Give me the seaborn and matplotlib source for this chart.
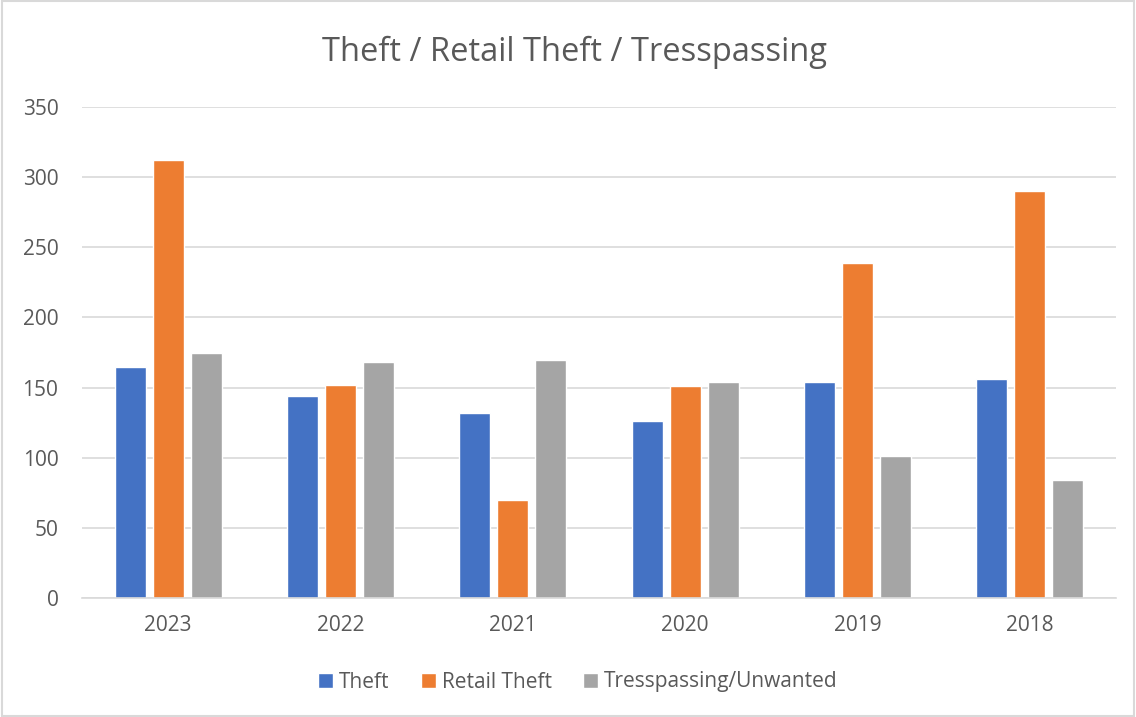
import matplotlib
matplotlib.use("Agg")
import matplotlib.pyplot as plt
import seaborn as sns
import pandas as pd
from matplotlib.patches import Rectangle

years = ["2023", "2022", "2021", "2020", "2019", "2018"]
theft = [165, 144, 132, 126, 154, 156]
retail_theft = [312, 152, 70, 151, 239, 290]
trespassing = [175, 168, 170, 154, 101, 84]
series_names = ["Theft", "Retail Theft", "Tresspassing/Unwanted"]
colors = ["#4472C4", "#ED7D31", "#A5A5A5"]

df = pd.DataFrame({
    "Year": years * 3,
    "Value": theft + retail_theft + trespassing,
    "Series": [series_names[0]] * 6 + [series_names[1]] * 6 + [series_names[2]] * 6,
})

sns.set_theme(style="white")
plt.rcParams["font.family"] = ["Open Sans", "DejaVu Sans"]
text_color = "#595959"

fig = plt.figure(figsize=(11.36, 7.17), dpi=100)
ax = fig.add_axes([82 / 1136, 1 - 598 / 717, (1116 - 82) / 1136, (598 - 107) / 717])

sns.barplot(data=df, x="Year", y="Value", hue="Series", order=years,
            hue_order=series_names, palette=colors, width=0.66, gap=0.18,
            saturation=1, ax=ax, legend=True)

ax.set_ylim(0, 350)
ax.set_xlim(-0.5, 5.5)
ax.set_yticks(range(0, 351, 50))
ax.yaxis.grid(True, color="#D9D9D9", linewidth=1.2)
ax.set_axisbelow(True)
for s in ["top", "right", "left"]:
    ax.spines[s].set_visible(False)
ax.spines["bottom"].set_color("#D9D9D9")
ax.spines["bottom"].set_linewidth(1.2)
ax.tick_params(axis="both", length=0, labelsize=15, colors=text_color)
ax.tick_params(axis="x", pad=12)
ax.tick_params(axis="y", pad=17)
ax.set_xlabel("")
ax.set_ylabel("")

fig.text(575 / 1136, 1 - 52 / 717, "Theft / Retail Theft / Tresspassing",
         ha="center", va="center", fontsize=23.5, color=text_color)

handles, labels = ax.get_legend_handles_labels()
ax.legend_.remove()
fig.legend(handles, labels, loc="center", bbox_to_anchor=(578 / 1136, 1 - 682 / 717),
           ncol=3, frameon=False, fontsize=15, labelcolor=text_color,
           handlelength=0.7, handleheight=0.7, handletextpad=0.3, columnspacing=1.5)

fig.patches.append(Rectangle((0.002, 0.002), 0.996, 0.996, transform=fig.transFigure,
                             fill=False, edgecolor="#D9D9D9", linewidth=1.5))

fig.savefig("out.png", dpi=100)
